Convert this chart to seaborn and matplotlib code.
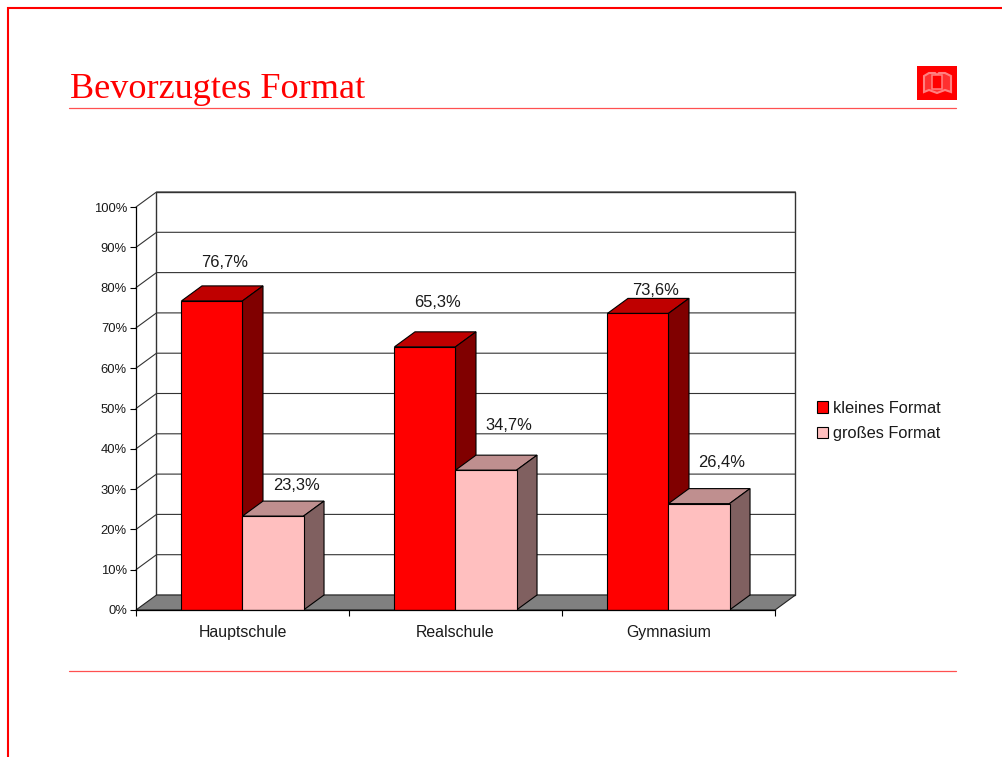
import matplotlib
matplotlib.use("Agg")
import matplotlib.pyplot as plt
from matplotlib.patches import Polygon, Rectangle
import pandas as pd
import seaborn as sns

schools = ["Hauptschule", "Realschule", "Gymnasium"]
klein = [76.7, 65.3, 73.6]
gross = [23.3, 34.7, 26.4]
series_names = ["kleines Format", "großes Format"]
label_klein = ["76,7%", "65,3%", "73,6%"]
label_gross = ["23,3%", "34,7%", "26,4%"]
offs_klein = [(13, 38), (13, 44), (18, 23)]
offs_gross = [(23, 31), (23, 45), (23, 41)]
y_ticks = list(range(0, 101, 10))

W, H = 1003, 757
sns.set_theme(style="white")
plt.rcParams["font.family"] = ["Liberation Sans", "DejaVu Sans"]
RED = "#FF0000"
INK = "#1a1a1a"
fig = plt.figure(figsize=(W / 100, H / 100), dpi=100, facecolor="white")

# decoration layer in pixel coordinates
bg = fig.add_axes([0, 0, 1, 1], zorder=0)
bg.set_xlim(0, W); bg.set_ylim(H, 0); bg.axis("off")
bg.plot([8, 8, W], [H, 8, 8], color=RED, lw=1.5, solid_capstyle="butt", solid_joinstyle="miter")
bg.plot([69, 956], [107.5, 107.5], color="#FF5050", lw=0.9)
bg.plot([69, 956], [670.5, 670.5], color="#FF5050", lw=0.9)
bg.text(70, 89, "Bevorzugtes Format", family="Liberation Serif", fontsize=26.1, color=RED, va="center", ha="left")
bg.add_patch(Rectangle((917, 66), 40, 34, fc=RED, ec="none"))
book = [(924, 76), (929, 73), (935, 73), (937, 75), (939, 73), (945, 73), (951, 76), (951, 92), (945, 90), (937, 93), (929, 90), (924, 92)]
bg.add_patch(Polygon(book, closed=True, fc="#FF3030", ec="#FF8080", lw=1.5))
bg.add_patch(Rectangle((932, 75), 10, 14, fc=RED, ec="#FF8080", lw=1.1))

# front plane of the 3D chart
L, R, T, B = 136, 775, 207, 610
ax = fig.add_axes([L / W, 1 - B / H, (R - L) / W, (B - T) / H], zorder=1)
ax.patch.set_alpha(0)
df = pd.DataFrame({
    "Schule": schools * 2,
    "Anteil": klein + gross,
    "Format": [series_names[0]] * 3 + [series_names[1]] * 3,
})
sns.barplot(data=df, x="Schule", y="Anteil", hue="Format", palette=[RED, "#FFBFBF"],
            width=0.573, gap=0, edgecolor="black", linewidth=0.8, saturation=1,
            errorbar=None, ax=ax)
ax.set_xlim(-0.5, 2.5); ax.set_ylim(0, 100)
ax.set_xlabel(""); ax.set_ylabel("")

dx = 20.5 / ((R - L) / 3)
dy = 15 / ((B - T) / 100)

# walls and floor
wc = dict(clip_on=False, zorder=0.5)
ax.add_patch(Polygon([(-0.5 + dx, dy), (2.5 + dx, dy), (2.5 + dx, 100 + dy), (-0.5 + dx, 100 + dy)],
                     closed=True, fc="white", ec="#333333", lw=1.0, **wc))
ax.add_patch(Polygon([(-0.5, 0), (-0.5 + dx, dy), (2.5 + dx, dy), (2.5, 0)],
                     closed=True, fc="#808080", ec="#222222", lw=0.8, clip_on=False, zorder=0.6))
for t in y_ticks[1:]:
    ax.plot([-0.5, -0.5 + dx, 2.5 + dx], [t, t + dy, t + dy], color="#333333", lw=0.8,
            clip_on=False, zorder=0.55)

# 3D sides and tops of the bars
styles = [("#BF0000", "#800000"), ("#BF8F8F", "#806060")]
for k, cont in enumerate(ax.containers):
    for bar in cont:
        bar.set_zorder(3 + k + 0.5)
        x0, w, h = bar.get_x(), bar.get_width(), bar.get_height()
        ax.add_patch(Polygon([(x0, h), (x0 + dx, h + dy), (x0 + w + dx, h + dy), (x0 + w, h)],
                             closed=True, fc=styles[k][0], ec="black", lw=0.8, clip_on=False, zorder=3 + k))
        ax.add_patch(Polygon([(x0 + w, 0), (x0 + w + dx, dy), (x0 + w + dx, h + dy), (x0 + w, h)],
                             closed=True, fc=styles[k][1], ec="black", lw=0.8, clip_on=False, zorder=3 + k))

# value labels
for k, (labels, offs) in enumerate(zip((label_klein, label_gross), (offs_klein, offs_gross))):
    for bar, s, (ox, oy) in zip(ax.containers[k], labels, offs):
        ax.annotate(s, (bar.get_x() + bar.get_width() / 2, bar.get_height()),
                    xytext=(ox * 0.72, oy * 0.72), textcoords="offset points",
                    ha="center", va="center", fontsize=11.9, color=INK,
                    annotation_clip=False, zorder=10)

# axes, ticks
for side in ("top", "right"):
    ax.spines[side].set_visible(False)
for side in ("left", "bottom"):
    ax.spines[side].set_color("black"); ax.spines[side].set_linewidth(0.9); ax.spines[side].set_zorder(8)
ax.set_yticks(y_ticks)
ax.set_yticklabels([f"{t}%" for t in y_ticks], fontsize=9.4, color=INK)
ax.tick_params(axis="y", left=True, length=4.5, width=0.8, color="black", pad=2)
ax.set_xticks([0, 1, 2])
ax.set_xticklabels(schools, fontsize=11.4, color=INK)
ax.set_xticks([-0.5, 0.5, 1.5, 2.5], minor=True)
ax.tick_params(axis="x", which="major", bottom=False, pad=5)
ax.tick_params(axis="x", which="minor", bottom=True, length=4.5, width=0.8, color="black")

# legend
handles, labels = ax.get_legend_handles_labels()
ax.legend(handles, labels, loc="upper left", bbox_to_anchor=(812 / W, 1 - 396 / H),
          bbox_transform=fig.transFigure, frameon=False, fontsize=11.75,
          handlelength=0.7, handleheight=0.7, handletextpad=0.3, labelspacing=0.62,
          borderpad=0.3, borderaxespad=0, labelcolor=INK)

fig.savefig("out.png", dpi=100, facecolor="white")
